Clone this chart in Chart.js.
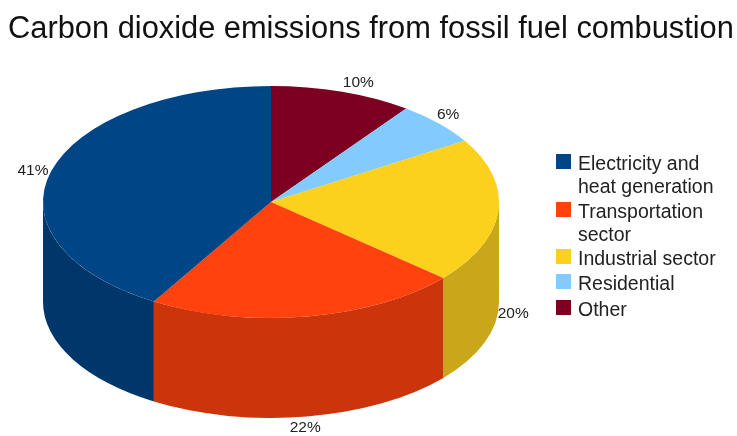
<!DOCTYPE html>
<html>
<head>
<meta charset="utf-8">
<title>Carbon dioxide emissions</title>
<script src="https://cdn.jsdelivr.net/npm/chart.js@4"></script>
<style>
  html, body { margin: 0; padding: 0; background: #fff; }
  canvas { display: block; }
</style>
</head>
<body>
<canvas id="chart" width="737" height="436"></canvas>
<script>
var titleText = 'Carbon dioxide emissions from fossil fuel combustion';
var categories = ['Electricity and heat generation', 'Transportation sector', 'Industrial sector', 'Residential', 'Other'];
var legendLines = [['Electricity and', 'heat generation'], ['Transportation', 'sector'], ['Industrial sector'], ['Residential'], ['Other']];
var shares = [41, 22, 20, 6, 10];
var topColors = ['#004586', '#ff420e', '#fcd11e', '#83caff', '#7e0021'];
var wallColors = ['#00376b', '#cc350b', '#c9a718', '#699fcc', '#65001a'];

// cylinder drawn on the canvas, in pixels
var pie = { cx: 271, cy: 202, rx: 228, ry: 116, depth: 100, labelRx: 248, labelRy: 127 };
var labelNudge = [[1, 3], [-5, 0], [-5, 2], [-5, -1], [10, 1]];
var legendBox = { x: 556, size: 15, textX: 578, lineHeight: 23 };
var legendTops = [154, 202, 249, 274, 300];

// slices run clockwise from twelve o'clock, last legend entry first
function reversed(list) {
  return list.slice().reverse();
}

var cylinderPlugin = {
  id: 'cylinder',
  beforeDatasetsDraw: function (chart) {
    var ctx = chart.ctx;
    var arcs = chart.getDatasetMeta(0).data;

    // outer wall, only the part facing the viewer
    var walls = reversed(wallColors);
    arcs.forEach(function (arc, i) {
      var from = Math.max(arc.startAngle, 0);
      var to = Math.min(arc.endAngle, Math.PI);
      if (to <= from) return;
      ctx.beginPath();
      ctx.ellipse(pie.cx, pie.cy, pie.rx, pie.ry, 0, from, to);
      ctx.ellipse(pie.cx, pie.cy + pie.depth, pie.rx, pie.ry, 0, to, from, true);
      ctx.closePath();
      ctx.fillStyle = walls[i];
      ctx.fill();
    });

    // squash the round pie into the top face
    var first = arcs[0];
    ctx.save();
    ctx.translate(pie.cx, pie.cy);
    ctx.scale(pie.rx / first.outerRadius, pie.ry / first.outerRadius);
    ctx.translate(-first.x, -first.y);
  },
  afterDatasetsDraw: function (chart) {
    chart.ctx.restore();
  },
  afterDraw: function (chart) {
    var ctx = chart.ctx;
    var arcs = chart.getDatasetMeta(0).data;
    var values = reversed(shares);
    var nudges = reversed(labelNudge);

    ctx.save();
    ctx.fillStyle = '#222';
    ctx.textBaseline = 'middle';

    // percentage labels, dropped below the wall on the front half
    ctx.font = '15.5px "Liberation Sans"';
    ctx.textAlign = 'center';
    arcs.forEach(function (arc, i) {
      var mid = (arc.startAngle + arc.endAngle) / 2;
      var x = pie.cx + pie.labelRx * Math.cos(mid) + nudges[i][0];
      var y = pie.cy + pie.labelRy * Math.sin(mid) + nudges[i][1];
      if (Math.sin(mid) > 0) y += pie.depth;
      ctx.fillText(values[i] + '%', x, y);
    });

    // legend with wrapped entries and the swatch on the first line
    ctx.font = '19.5px "Liberation Sans"';
    ctx.textAlign = 'left';
    legendLines.forEach(function (lines, i) {
      var top = legendTops[i];
      ctx.fillStyle = topColors[i];
      ctx.fillRect(legendBox.x, top, legendBox.size, legendBox.size);
      ctx.fillStyle = '#222';
      lines.forEach(function (line, n) {
        ctx.fillText(line, legendBox.textX, top + 10.5 + n * legendBox.lineHeight);
      });
    });
    ctx.restore();
  }
};

new Chart(document.getElementById('chart'), {
  type: 'pie',
  data: {
    labels: reversed(categories),
    datasets: [{
      data: reversed(shares),
      backgroundColor: reversed(topColors),
      borderWidth: 0
    }]
  },
  options: {
    responsive: false,
    animation: false,
    layout: { padding: { left: 5 } },
    plugins: {
      legend: { display: false },
      tooltip: { enabled: false },
      title: {
        display: true,
        text: titleText,
        color: '#111',
        font: { family: '"Liberation Sans"', size: 30.8, weight: 'normal' },
        padding: { top: 11, bottom: 10 }
      }
    }
  },
  plugins: [cylinderPlugin]
});
</script>
</body>
</html>
